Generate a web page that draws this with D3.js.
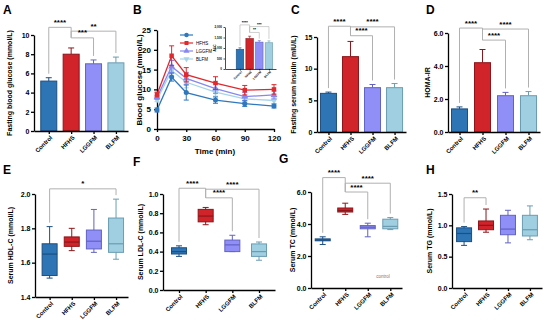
<!DOCTYPE html>
<meta charset="utf-8">
<script src="https://d3js.org/d3.v7.min.js"></script>
<style>
body { margin: 0; background: #fff; }
text { font-family: "Liberation Sans", Arial, sans-serif; font-weight: bold; }
</style>
<div id="chart"></div>
<script>

// ---- data ----
var groups = ["Control", "HFHS", "LGGFM", "BLFM"];

// A: fasting blood glucose (mean, error)
var glucoseMean = [5.2, 8.0, 7.0, 7.1];
var glucoseErr  = [0.35, 0.65, 0.4, 0.6];
var glucoseSig  = [["Control", "HFHS", 10.8, "****"], ["HFHS", "BLFM", 10.4, "**"], ["HFHS", "LGGFM", 9.7, "***"]];

// B: OGTT curves
var timePoints   = [0, 15, 30, 60, 90, 120];
var ogttControl  = [4.8, 13.1, 9.2, 7.3, 6.4, 5.8];
var ogttControlE = [0.5, 1.0, 1.9, 0.8, 0.7, 0.5];
var ogttHFHS     = [8.7, 18.5, 13.7, 11.6, 9.8, 10.0];
var ogttHFHSE    = [0.6, 2.5, 1.8, 1.6, 1.2, 1.2];
var ogttLGGFM    = [8.0, 15.8, 12.8, 10.2, 8.2, 8.6];
var ogttLGGFME   = [0.5, 1.5, 1.5, 1.2, 1.0, 1.0];
var ogttBLFM     = [7.4, 14.8, 11.8, 9.3, 7.6, 7.2];
var ogttBLFME    = [0.5, 1.4, 1.4, 1.0, 0.9, 0.8];
var legendNames  = ["", "HFHS", "LGGFM", "BLFM"];

// B inset: AUC
var aucMean = [940, 1450, 1280, 1250];
var aucErr  = [70, 110, 70, 90];
var aucSig  = [["Control", "HFHS", 2100, "****"], ["HFHS", "BLFM", 2020, "***"], ["HFHS", "LGGFM", 1740, "**"]];

// C: fasting serum insulin
var insulinMean = [6.1, 11.9, 7.0, 7.0];
var insulinErr  = [0.2, 2.4, 0.5, 0.65];
var insulinSig  = [["Control", "HFHS", 16.7, "****"], ["HFHS", "BLFM", 16.6, "****"], ["HFHS", "LGGFM", 15.2, "****"]];

// D: HOMA-IR
var homaMean = [1.4, 4.2, 2.2, 2.2];
var homaErr  = [0.12, 0.8, 0.2, 0.25];
var homaSig  = [["Control", "HFHS", 6.3, "****"], ["HFHS", "BLFM", 6.24, "****"], ["HFHS", "LGGFM", 5.57, "****"]];

// E-H: box plots [min, q1, median, q3, max]
var hdlBox = [[1.51, 1.525, 1.65, 1.71, 1.81], [1.67, 1.695, 1.72, 1.75, 1.80], [1.66, 1.68, 1.725, 1.79, 1.91], [1.62, 1.66, 1.71, 1.86, 1.97]];
var hdlSig = [["Control", "BLFM", 2.03, "*"]];
var ldlBox = [[0.35, 0.375, 0.40, 0.44, 0.46], [0.68, 0.71, 0.77, 0.84, 0.86], [0.40, 0.40, 0.47, 0.52, 0.57], [0.31, 0.35, 0.40, 0.48, 0.50]];
var ldlSig = [["Control", "HFHS", 1.06, "****"], ["HFHS", "BLFM", 1.05, "****"], ["HFHS", "LGGFM", 0.96, "****"]];
var tcBox  = [[2.72, 2.95, 3.0, 3.07, 3.2], [4.6, 4.75, 4.85, 5.0, 5.3], [3.2, 3.7, 3.8, 3.9, 4.05], [3.65, 3.7, 3.85, 4.3, 4.4]];
var tcSig  = [["Control", "HFHS", 6.9, "****"], ["HFHS", "BLFM", 6.55, "****"], ["HFHS", "LGGFM", 6.0, "****"]];
var tgBox  = [[0.68, 0.74, 0.87, 0.96, 0.98], [0.89, 0.93, 1.0, 1.07, 1.26], [0.72, 0.85, 0.94, 1.16, 1.24], [0.77, 0.83, 0.93, 1.16, 1.31]];
var tgSig  = [["Control", "HFHS", 1.44, "**"]];

// ---- styles ----
var fills   = ["#2e75b6", "#d0232a", "#8f8ff7", "#9fcfe0"];
var strokes = ["#1d4f80", "#8e1519", "#6262c4", "#6a9db2"];
var lineCols = ["#2f78bd", "#e0282d", "#8787ef", "#a6d4ea"];

var svg = d3.select("#chart").append("svg")
  .attr("width", 550).attr("height", 320);

function panelLetter(t, x, y) {
  svg.append("text").attr("x", x).attr("y", y).text(t)
    .style("font-size", "12px");
}

// axes shared by bar and box panels
function catAxes(f, yDomain, yTicks, yLabel, fmt) {
  var x = d3.scalePoint().domain(groups).range([f.x0, f.x1]).padding(f.pad).align(f.align == null ? 0.5 : f.align);
  var y = d3.scaleLinear().domain(yDomain).range([f.yBot, f.yTop]);
  var fs = f.fs || 7;
  var tk = f.tick || 3;

  var ya = svg.append("g").attr("transform", "translate(" + f.x0 + ",0)")
    .call(d3.axisLeft(y).tickValues(yTicks).tickSize(tk).tickSizeOuter(0).tickFormat(fmt));
  ya.selectAll("text").style("font-size", fs + "px").attr("x", -tk - 1.5);

  var xa = svg.append("g").attr("transform", "translate(0," + f.yBot + ")")
    .call(d3.axisBottom(x).tickSize(tk).tickSizeOuter(0));
  xa.selectAll("text")
    .style("font-size", (f.xfs || 6) + "px")
    .attr("text-anchor", "end")
    .attr("x", 0).attr("y", 0).attr("dy", "0.35em")
    .attr("transform", "translate(" + (f.xoff || 2) + "," + (f.yoff || 5.5) + ") rotate(-45)");

  [ya, xa].forEach(function (a) {
    a.select(".domain").attr("stroke-width", f.sw || 1.3);
    a.selectAll(".tick line").attr("stroke-width", f.sw || 1.3);
  });

  svg.append("text")
    .attr("transform", "translate(" + f.labelX + "," + ((f.yTop + f.yBot) / 2) + ") rotate(-90)")
    .attr("text-anchor", "middle")
    .style("font-size", (f.lfs || fs) + "px")
    .text(yLabel);
  return {x: x, y: y};
}

// significance brackets
function brackets(s, sig, tops, f) {
  var count = {};
  sig.forEach(function (b) { count[b[0]] = (count[b[0]] || 0) + 1; count[b[1]] = (count[b[1]] || 0) + 1; });
  var hubY = d3.max(sig, function (b) { return s.y(b[2]); });
  var g = svg.append("g");
  sig.forEach(function (b) {
    var ly = s.y(b[2]);
    var legEnd = function (name) {
      if (count[name] > 1) return hubY;
      return s.y(tops[groups.indexOf(name)]) - (f.gap || 4);
    };
    var x1 = s.x(b[0]), x2 = s.x(b[1]);
    g.append("path")
      .attr("d", "M" + x1 + "," + legEnd(b[0]) + "V" + ly + "H" + x2 + "V" + legEnd(b[1]))
      .attr("fill", "none").attr("stroke", "#b0b0b0").attr("stroke-width", f.bw || 1);
    g.append("text")
      .attr("x", (x1 + x2) / 2).attr("y", ly - (f.sgap || 2.5))
      .attr("text-anchor", "middle")
      .style("font-size", (f.sfs || 8) + "px")
      .text(b[3]);
  });
}

function barPanel(f, means, errs, yDomain, yTicks, yLabel, sig, fmt) {
  var s = catAxes(f, yDomain, yTicks, yLabel, fmt);
  var bw = f.bw0 || 16;
  var cw = f.cw || 6;
  var g = svg.insert("g", ":first-child");
  groups.forEach(function (name, i) {
    var cx = s.x(name);
    g.append("line").attr("x1", cx).attr("x2", cx)
      .attr("y1", s.y(means[i])).attr("y2", s.y(means[i] + errs[i]))
      .attr("stroke", strokes[i]).attr("stroke-width", f.ew || 1);
    g.append("line").attr("x1", cx - cw / 2).attr("x2", cx + cw / 2)
      .attr("y1", s.y(means[i] + errs[i])).attr("y2", s.y(means[i] + errs[i]))
      .attr("stroke", strokes[i]).attr("stroke-width", f.ew || 1);
    g.append("rect").attr("x", cx - bw / 2).attr("width", bw)
      .attr("y", s.y(means[i])).attr("height", s.y(yDomain[0]) - s.y(means[i]))
      .attr("fill", fills[i]).attr("stroke", strokes[i]).attr("stroke-width", f.ew || 1);
  });
  var tops = means.map(function (m, i) { return m + errs[i]; });
  brackets(s, sig, tops, f);
}

function boxPanel(f, boxes, yDomain, yTicks, yLabel, sig, fmt) {
  var s = catAxes(f, yDomain, yTicks, yLabel, fmt);
  var bw = 15, cw = 6;
  var g = svg.insert("g", ":first-child");
  groups.forEach(function (name, i) {
    var cx = s.x(name), b = boxes[i];
    var st = strokes[i];
    g.append("line").attr("x1", cx).attr("x2", cx).attr("y1", s.y(b[0])).attr("y2", s.y(b[4]))
      .attr("stroke", st).attr("stroke-width", 1);
    [b[0], b[4]].forEach(function (v) {
      g.append("line").attr("x1", cx - cw / 2).attr("x2", cx + cw / 2)
        .attr("y1", s.y(v)).attr("y2", s.y(v)).attr("stroke", st).attr("stroke-width", 1);
    });
    g.append("rect").attr("x", cx - bw / 2).attr("width", bw)
      .attr("y", s.y(b[3])).attr("height", Math.max(1, s.y(b[1]) - s.y(b[3])))
      .attr("fill", fills[i]).attr("stroke", st).attr("stroke-width", 1);
    g.append("line").attr("x1", cx - bw / 2).attr("x2", cx + bw / 2)
      .attr("y1", s.y(b[2])).attr("y2", s.y(b[2])).attr("stroke", st).attr("stroke-width", 1.2);
  });
  var tops = boxes.map(function (b) { return b[4]; });
  brackets(s, sig, tops, f);
}

// ---- A ----
panelLetter("A", 3, 14);
barPanel({x0: 34, x1: 128, yTop: 35, yBot: 131, pad: 0.6, align: 0.55, labelX: 12},
  glucoseMean, glucoseErr, [0, 10], [0, 2, 4, 6, 8, 10], "Fasting blood glucose (mmol/L)", glucoseSig);

// ---- B ----
panelLetter("B", 133, 14);
var xB = d3.scaleLinear().domain([0, 120]).range([157, 274]);
var yB = d3.scaleLinear().domain([0, 25]).range([129, 30]);
var axB = svg.append("g").attr("transform", "translate(157,0)")
  .call(d3.axisLeft(yB).tickValues([0, 5, 10, 15, 20, 25]).tickSize(3).tickSizeOuter(0));
var axBx = svg.append("g").attr("transform", "translate(0,129)")
  .call(d3.axisBottom(xB).tickValues([0, 30, 60, 90, 120]).tickSize(3).tickSizeOuter(0));
[axB, axBx].forEach(function (a) {
  a.selectAll("text").style("font-size", "8px");
  a.select(".domain").attr("stroke-width", 1.3);
  a.selectAll(".tick line").attr("stroke-width", 1.3);
});
svg.append("text").attr("transform", "translate(142,80) rotate(-90)")
  .attr("text-anchor", "middle").style("font-size", "8px").text("Blood glucose (mmol/L)");
svg.append("text").attr("x", 215).attr("y", 154)
  .attr("text-anchor", "middle").style("font-size", "8px").text("Time (min)");

var ogtt = [
  {v: ogttControl, e: ogttControlE, sym: d3.symbolCircle},
  {v: ogttHFHS, e: ogttHFHSE, sym: d3.symbolSquare},
  {v: ogttLGGFM, e: ogttLGGFME, sym: d3.symbolTriangle},
  {v: ogttBLFM, e: ogttBLFME, sym: d3.symbolTriangle, flip: true}
];
var line = d3.line().x(function (d) { return xB(d[0]); }).y(function (d) { return yB(d[1]); });
[3, 2, 1, 0].forEach(function (k) {
  var s = ogtt[k], col = lineCols[k];
  var g = svg.append("g");
  var pts = timePoints.map(function (t, j) { return [t, s.v[j]]; });
  timePoints.forEach(function (t, j) {
    var cx = xB(t);
    g.append("line").attr("x1", cx).attr("x2", cx)
      .attr("y1", yB(s.v[j] - s.e[j])).attr("y2", yB(s.v[j] + s.e[j]))
      .attr("stroke", col).attr("stroke-width", 1);
    [s.v[j] - s.e[j], s.v[j] + s.e[j]].forEach(function (v) {
      g.append("line").attr("x1", cx - 2.5).attr("x2", cx + 2.5)
        .attr("y1", yB(v)).attr("y2", yB(v)).attr("stroke", col).attr("stroke-width", 1);
    });
  });
  g.append("path").attr("d", line(pts)).attr("fill", "none")
    .attr("stroke", col).attr("stroke-width", 1.3);
  g.selectAll(".m").data(pts).enter().append("path")
    .attr("d", d3.symbol().type(s.sym).size(20))
    .attr("transform", function (d) {
      return "translate(" + xB(d[0]) + "," + yB(d[1]) + ")" + (s.flip ? " rotate(180)" : "");
    })
    .attr("fill", col);
});

// legend
legendNames.forEach(function (name, k) {
  var ly = 35 + k * 8;
  svg.append("line").attr("x1", 180).attr("x2", 193).attr("y1", ly).attr("y2", ly)
    .attr("stroke", lineCols[k]).attr("stroke-width", 1.2);
  svg.append("path").attr("d", d3.symbol().type(ogtt[k].sym).size(16))
    .attr("transform", "translate(186.5," + ly + ")" + (ogtt[k].flip ? " rotate(180)" : ""))
    .attr("fill", lineCols[k]);
  svg.append("text").attr("x", 196).attr("y", ly + 1.7).style("font-size", "4.5px")
    .style("font-weight", "normal").text(name);
});

// inset AUC
barPanel({x0: 225, x1: 276, yTop: 27, yBot: 69, pad: 1.14, align: 0.68, labelX: 215.5, fs: 3, xfs: 3, lfs: 3.2,
          tick: 1.5, sw: 0.7, bw0: 7.5, cw: 3, ew: 0.6, gap: 2, bw: 0.6, sfs: 4, sgap: 1,
          xoff: 1, yoff: 2.5},
  aucMean, aucErr, [0, 2000], [0, 500, 1000, 1500, 2000], "AUC", aucSig);

// ---- C ----
panelLetter("C", 291, 14);
barPanel({x0: 317, x1: 406, yTop: 37, yBot: 132, pad: 0.52, labelX: 296},
  insulinMean, insulinErr, [0, 15], [0, 5, 10, 15], "Fasting serum insulin (mIU/L)", insulinSig);

// ---- D ----
panelLetter("D", 426, 14);
barPanel({x0: 448, x1: 540, yTop: 33, yBot: 132, pad: 0.5, labelX: 430},
  homaMean, homaErr, [0, 6], [0, 2, 4, 6], "HOMA-IR", homaSig);

// ---- E ----
panelLetter("E", 3, 174);
boxPanel({x0: 35, x1: 128, yTop: 194, yBot: 297, pad: 0.6, align: 0.55, labelX: 13},
  hdlBox, [1.4, 2.0], [1.4, 1.6, 1.8, 2.0], "Serum HDL-C (mmol/L)", hdlSig, d3.format(".1f"));

// ---- F ----
panelLetter("F", 133, 166);
boxPanel({x0: 163, x1: 275, yTop: 194, yBot: 290, pad: 0.6, labelX: 143},
  ldlBox, [0, 1.0], [0, 0.2, 0.4, 0.6, 0.8, 1.0], "Serum LDL-C (mmol/L)", ldlSig, d3.format(".1f"));

// ---- G ----
panelLetter("G", 279, 163);
boxPanel({x0: 311, x1: 402, yTop: 192, yBot: 288, pad: 0.52, labelX: 295},
  tcBox, [0, 6], [0, 2, 4, 6], "Serum TC (mmol/L)", tcSig);
svg.append("text").attr("x", 383).attr("y", 278).attr("text-anchor", "middle")
  .style("font-size", "4.5px").style("font-weight", "normal").attr("fill", "#777").text("control");

// ---- H ----
panelLetter("H", 426, 174);
boxPanel({x0: 452, x1: 542, yTop: 194, yBot: 288, pad: 0.55, labelX: 432},
  tgBox, [0, 1.5], [0, 0.5, 1.0, 1.5], "Serum TG (mmol/L)", tgSig, d3.format(".1f"));

</script>
